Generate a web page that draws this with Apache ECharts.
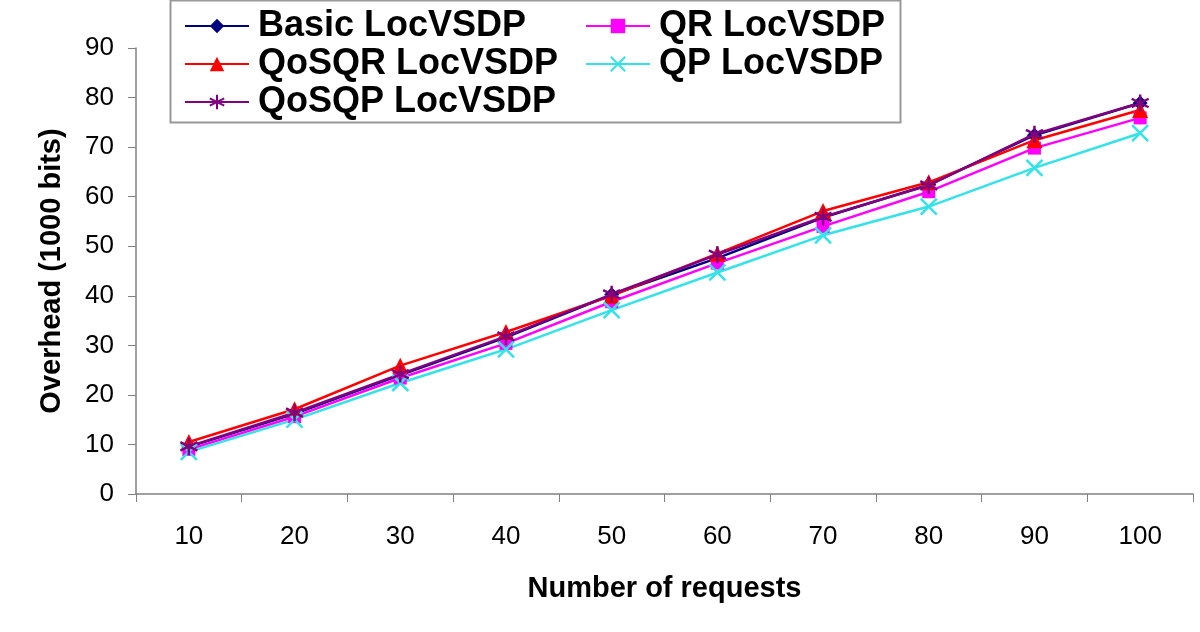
<!DOCTYPE html>
<html>
<head>
<meta charset="utf-8">
<script src="https://cdn.jsdelivr.net/npm/echarts@6/dist/echarts.min.js"></script>
<style>html,body{margin:0;padding:0;background:#fff}#c{width:1200px;height:632px}</style>
</head>
<body>
<div id="c"></div>
<script>
var categories = ['10','20','30','40','50','60','70','80','90','100'];
var basicLoc = [9.5, 16.2, 24.0, 31.6, 40.2, 47.6, 55.8, 62.4, 72.4, 78.9];
var qrLoc    = [9.0, 15.6, 23.4, 30.4, 38.8, 46.6, 54.0, 61.0, 69.8, 75.9];
var qosqrLoc = [10.5, 17.1, 25.9, 32.7, 40.0, 48.5, 57.1, 62.9, 71.4, 77.5];
var qpLoc    = [8.5, 15.0, 22.4, 29.2, 37.1, 44.7, 52.2, 58.0, 65.8, 72.8];
var qosqpLoc = [9.6, 16.4, 24.2, 31.8, 40.3, 48.3, 55.9, 62.3, 72.6, 78.9];
var yTicks = {min: 0, max: 90, interval: 10};

var FONT = '"Liberation Sans", Arial, sans-serif';
var starPath = 'path://M0,-10L0,10M-8.66,-5L8.66,5M-8.66,5L8.66,-5';
var xPath = 'path://M-10,-10L10,10M-10,10L10,-10';

function lineSeries(name, data, color, symbol, size, stroke) {
  var s = {
    name: name, type: 'line', data: data,
    symbol: symbol, symbolSize: size,
    lineStyle: {color: color, width: 2.5},
    itemStyle: {color: color},
    emphasis: {disabled: true},
    animation: false
  };
  if (stroke) {
    s.itemStyle = {color: color, borderColor: color, borderWidth: 2.5};
  }
  return s;
}

var chart = echarts.init(document.getElementById('c'));
var legendText = {fontFamily: FONT, fontWeight: 'bold', fontSize: 36, color: '#000', padding: [0, 0, 0, 4]};
chart.setOption({
  backgroundColor: '#fff',
  animation: false,
  grid: {left: 136, right: 7, top: 48, bottom: 138},
  graphic: [{
    type: 'rect', z: 0,
    shape: {x: 170.5, y: 0.5, width: 730, height: 122},
    style: {fill: '#fff', stroke: '#999', lineWidth: 2}
  }],
  legend: [{
    data: ['Basic LocVSDP', 'QoSQR LocVSDP', 'QoSQP LocVSDP'],
    orient: 'vertical', left: 179, top: 3,
    itemWidth: 64, itemHeight: 18, itemGap: 2,
    textStyle: legendText, z: 5
  }, {
    data: ['QR LocVSDP', 'QP LocVSDP'],
    orient: 'vertical', left: 580, top: 3,
    itemWidth: 64, itemHeight: 18, itemGap: 2,
    textStyle: legendText, z: 5
  }],
  xAxis: {
    type: 'category', data: categories, boundaryGap: true,
    axisLine: {lineStyle: {color: '#808080', width: 1.5}},
    axisTick: {show: true, interval: 0, length: 8, lineStyle: {color: '#808080'}},
    axisLabel: {fontFamily: FONT, fontSize: 26, color: '#000', margin: 30},
    name: 'Number of requests', nameLocation: 'middle', nameGap: 80,
    nameTextStyle: {fontFamily: FONT, fontSize: 29, fontWeight: 'bold', color: '#000'}
  },
  yAxis: {
    type: 'value', min: yTicks.min, max: yTicks.max, interval: yTicks.interval,
    splitLine: {show: false},
    axisLine: {show: true, lineStyle: {color: '#808080', width: 1.5}},
    axisTick: {show: true, length: 8, lineStyle: {color: '#808080'}},
    axisLabel: {fontFamily: FONT, fontSize: 26, color: '#000', margin: 22},
    name: 'Overhead (1000 bits)', nameLocation: 'middle', nameGap: 70,
    nameTextStyle: {fontFamily: FONT, fontSize: 29, fontWeight: 'bold', color: '#000'}
  },
  series: [
    lineSeries('Basic LocVSDP', basicLoc, '#000080', 'diamond', 15),
    lineSeries('QR LocVSDP', qrLoc, '#FF00FF', 'rect', 13),
    lineSeries('QoSQR LocVSDP', qosqrLoc, '#FF0000', 'triangle', 16),
    lineSeries('QP LocVSDP', qpLoc, '#33E3E8', xPath, 16, true),
    lineSeries('QoSQP LocVSDP', qosqpLoc, '#800080', starPath, 17, true)
  ]
});
</script>
</body>
</html>
